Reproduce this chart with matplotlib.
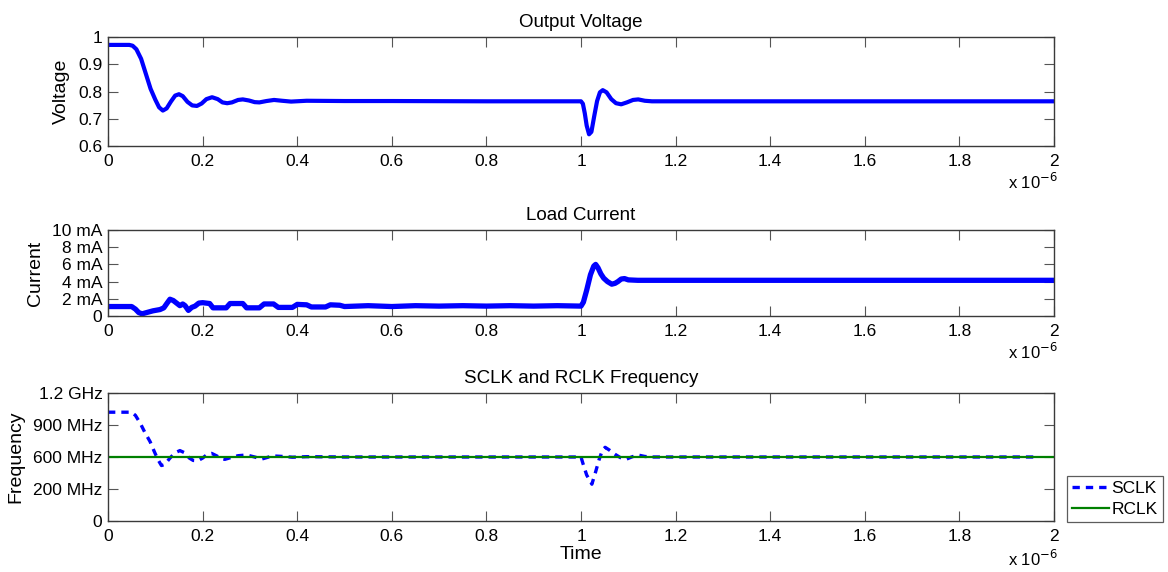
import matplotlib
matplotlib.use("Agg")
import matplotlib.pyplot as plt

plt.rcParams['font.family'] = ['Liberation Sans', 'DejaVu Sans']

# ---- data (time in microseconds) ----
volt_t = [0, 0.045, 0.052, 0.06, 0.07, 0.08, 0.09, 0.10, 0.108, 0.116, 0.124, 0.133,
          0.142, 0.150, 0.158, 0.168, 0.178, 0.188, 0.198, 0.208, 0.220, 0.232, 0.242,
          0.252, 0.262, 0.275, 0.285, 0.298, 0.310, 0.320, 0.335, 0.351, 0.368, 0.387,
          0.42, 0.5, 0.6, 0.8, 1.0, 1.004, 1.008, 1.012, 1.017, 1.022, 1.028, 1.034,
          1.040, 1.046, 1.054, 1.064, 1.074, 1.085, 1.097, 1.110, 1.121, 1.135, 1.15, 2.0]
volt_v = [0.971, 0.971, 0.968, 0.955, 0.92, 0.865, 0.81, 0.77, 0.742, 0.730, 0.738, 0.763,
          0.785, 0.790, 0.783, 0.762, 0.749, 0.747, 0.756, 0.772, 0.779, 0.772, 0.760,
          0.757, 0.760, 0.769, 0.771, 0.767, 0.761, 0.760, 0.765, 0.769, 0.766, 0.763,
          0.766, 0.765, 0.765, 0.764, 0.764, 0.755, 0.72, 0.675, 0.643, 0.652, 0.71, 0.765,
          0.797, 0.805, 0.797, 0.772, 0.757, 0.753, 0.760, 0.769, 0.771, 0.766, 0.764, 0.764]

curr_t = [0, 0.05, 0.058, 0.065, 0.072, 0.085, 0.095, 0.11, 0.118, 0.125, 0.131, 0.138,
          0.145, 0.152, 0.158, 0.163, 0.170, 0.177, 0.184, 0.192, 0.200, 0.215, 0.222,
          0.250, 0.258, 0.285, 0.293, 0.320, 0.330, 0.350, 0.360, 0.390, 0.400, 0.420,
          0.430, 0.460, 0.470, 0.490, 0.5, 0.55, 0.6, 0.65, 0.7, 0.75, 0.8, 0.85, 0.9,
          0.95, 1.0, 1.005, 1.012, 1.020, 1.027, 1.031, 1.036, 1.042, 1.048, 1.056,
          1.065, 1.072, 1.078, 1.085, 1.092, 1.10, 1.12, 2.0]
curr_ma = [1.1, 1.1, 0.8, 0.4, 0.25, 0.45, 0.6, 0.75, 0.95, 1.5, 1.95, 1.8,
           1.5, 1.2, 1.4, 1.2, 0.65, 1.0, 1.15, 1.5, 1.55, 1.45, 0.95,
           0.95, 1.45, 1.45, 0.95, 0.95, 1.4, 1.4, 1.0, 1.0, 1.35, 1.3,
           1.05, 1.05, 1.3, 1.25, 1.1, 1.2, 1.1, 1.2, 1.15, 1.2, 1.15, 1.2, 1.15,
           1.2, 1.15, 1.6, 3.0, 4.8, 5.8, 6.0, 5.6, 4.9, 4.4, 4.0,
           3.7, 3.8, 4.0, 4.3, 4.35, 4.2, 4.15, 4.15]

sclk_t = [0, 0.05, 0.058, 0.068, 0.078, 0.089, 0.097, 0.105, 0.113, 0.120, 0.131, 0.142,
          0.152, 0.162, 0.172, 0.180, 0.190, 0.200, 0.210, 0.219, 0.230, 0.240, 0.247,
          0.260, 0.275, 0.293, 0.310, 0.325, 0.340, 0.353, 0.370, 0.39, 0.42, 0.5, 1.0,
          1.004, 1.012, 1.023, 1.031, 1.038, 1.045, 1.051, 1.060, 1.072, 1.083, 1.095,
          1.107, 1.120, 1.135, 1.15, 1.96]
sclk_mhz = [1020, 1020, 990, 918, 830, 744, 660, 580, 520, 530, 590, 640,
            660, 640, 590, 568, 565, 590, 625, 634, 610, 585, 578,
            595, 612, 619, 600, 581, 600, 609, 605, 598, 603, 600, 600,
            541, 431, 345, 462, 572, 660, 691, 665, 625, 595, 578,
            600, 619, 605, 600, 600]

rclk_t = [0, 2.0]
rclk_mhz = [600, 600]

x_ticks = [0, 0.2, 0.4, 0.6, 0.8, 1.0, 1.2, 1.4, 1.6, 1.8, 2.0]
x_labels = ['0', '0.2', '0.4', '0.6', '0.8', '1', '1.2', '1.4', '1.6', '1.8', '2']
v_ticks = [0.6, 0.7, 0.8, 0.9, 1.0]
v_labels = ['0.6', '0.7', '0.8', '0.9', '1']
i_ticks = [0, 2, 4, 6, 8, 10]
i_labels = ['0', '2 mA', '4 mA', '6 mA', '8 mA', '10 mA']
f_ticks = [0, 300, 600, 900, 1200]
f_labels = ['0', '200 MHz', '600 MHz', '900 MHz', '1.2 GHz']

# ---- figure ----
W, H = 1168, 572
fig = plt.figure(figsize=(W / 100, H / 100), dpi=100)

def px_axes(l, t, r, b):
    return fig.add_axes([l / W, 1 - b / H, (r - l) / W, (b - t) / H])

ax1 = px_axes(108, 37, 1054, 146)
ax2 = px_axes(108, 230, 1054, 316)
ax3 = px_axes(108, 393, 1054, 521)

spine_col = '#3a3a3a'
for ax in (ax1, ax2, ax3):
    ax.set_xlim(0, 2)
    ax.set_xticks(x_ticks)
    ax.set_xticklabels(x_labels)
    ax.tick_params(direction='in', length=7, width=0.8, color='#555555',
                   top=True, right=True, labelsize=12.5, pad=4)
    ax.tick_params(axis='x', pad=6)
    for s in ax.spines.values():
        s.set_color(spine_col)
        s.set_linewidth(1.0)

blue = '#0000ff'
ax1.plot(volt_t, volt_v, color=blue, lw=3.0, solid_joinstyle='round')
ax1.set_ylim(0.6, 1.0)
ax1.set_yticks(v_ticks)
ax1.set_yticklabels(v_labels)
ax1.set_ylabel('Voltage', fontsize=14, labelpad=6)
ax1.set_title('Output Voltage', fontsize=13.5, pad=7)

ax2.plot(curr_t, curr_ma, color=blue, lw=3.8, solid_joinstyle='round')
ax2.set_ylim(0, 10)
ax2.set_yticks(i_ticks)
ax2.set_yticklabels(i_labels)
ax2.set_ylabel('Current', fontsize=14, labelpad=6)
ax2.set_title('Load Current', fontsize=13.5, pad=7)

l1, = ax3.plot(sclk_t, sclk_mhz, color=blue, lw=2.4, linestyle=(0, (2.2, 1.8)),
               label='SCLK')
l2, = ax3.plot(rclk_t, rclk_mhz, color='#008000', lw=1.6, label='RCLK')
ax3.set_ylim(0, 1200)
ax3.set_yticks(f_ticks)
ax3.set_yticklabels(f_labels)
ax3.set_ylabel('Frequency', fontsize=14, labelpad=6)
ax3.set_xlabel('Time', fontsize=14, labelpad=1)
ax3.set_title('SCLK and RCLK Frequency', fontsize=13.5, pad=7)

# exponent labels (MATLAB style)
for ypx in (189, 359, 566):
    fig.text(1008 / W, 1 - ypx / H, r'x 10$^{-6}$', fontsize=12, ha='left',
             va='baseline')

leg = fig.legend(handles=[l1, l2], labels=['SCLK', 'RCLK'],
                 loc='upper left', bbox_to_anchor=(1067 / W, 1 - 476 / H),
                 fontsize=12.5, frameon=True, fancybox=False, borderpad=0.3,
                 handlelength=2.1, handletextpad=0.15, labelspacing=0.3,
                 borderaxespad=0)
leg.get_frame().set_edgecolor('#333333')
leg.get_frame().set_linewidth(0.9)

fig.savefig('out.png', dpi=100)
